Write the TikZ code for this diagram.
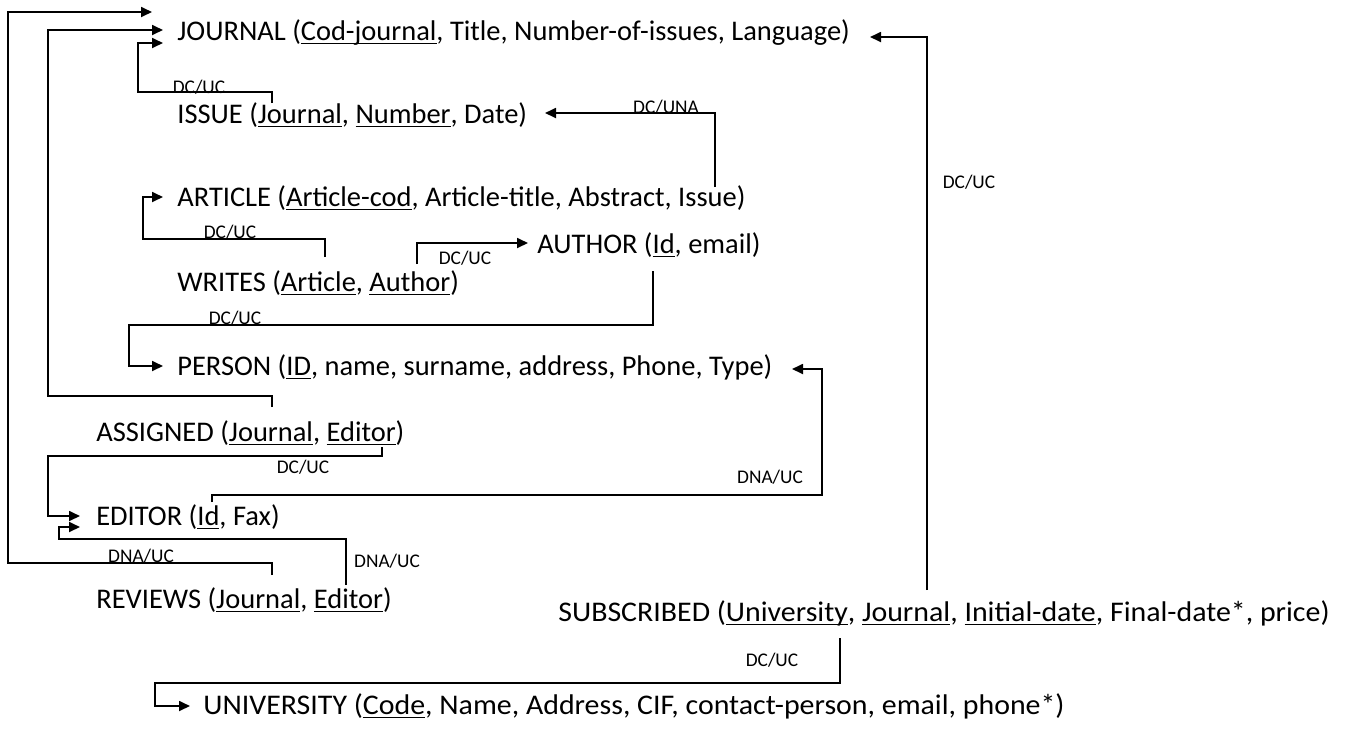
\documentclass[tikz,border=0pt]{standalone}
\usepackage{fontspec}
\setmainfont{Carlito}
\usepackage{graphicx}
\usetikzlibrary{arrows.meta}
\newcommand{\pk}[1]{\setbox0\hbox{#1}\rlap{\rule[-2.2pt]{\wd0}{0.7pt}}\box0}

\begin{document}
\begin{tikzpicture}[
        x=0.02cm, y=-0.02cm,
        ent/.style={anchor=base west, inner sep=0pt, font=\fontsize{16.2}{18}\selectfont},
        lbl/.style={inner sep=0pt, font=\fontsize{11}{12}\selectfont},
        link/.style={line width=1pt, -{Triangle[length=2.2mm, width=2mm]}}
    ]
    \useasboundingbox (0,0) rectangle (1349,731);

    % relations
    \node[ent] (journal) at (177,40) {JOURNAL (\pk{Cod-journal}, Title,\ Number-of-issues,\ Language)};
    \node[ent] (issue) at (177,123) {ISSUE (\pk{Journal}, \pk{Number}, Date)};
    \node[ent] (article) at (177,206) {ARTICLE (\pk{Article-cod}, Article-title,\ Abstract, Issue)};
    \node[ent] (author) at (537,253) {AUTHOR (\pk{Id}, email)};
    \node[ent] (writes) at (177,291) {WRITES (\pk{Article}, \pk{Author})};
    \node[ent] (person) at (177,375) {PERSON (\pk{ID}, name, surname, address, Phone, Type)};
    \node[ent] (assigned) at (96,441) {ASSIGNED (\pk{Journal}, \pk{Editor})};
    \node[ent] (editor) at (96,525) {EDITOR (\pk{Id}, Fax)};
    \node[ent] (reviews) at (96,608) {REVIEWS (\pk{Journal}, \pk{Editor})};
    \node[ent] (subscribed) at (558,621) {\scalebox{1.05}[1]{SUBSCRIBED (\pk{University}, \pk{Journal}, \pk{Initial-date}, Final-date*, price)}};
    \node[ent] (university) at (203,714) {\scalebox{1.05}[1]{UNIVERSITY (\pk{Code}, Name, Address, CIF, contact-person,\ email, phone*)}};

    % arrow tips
    \coordinate (journal-in1) at (152,12);
    \coordinate (journal-in2) at (163,30);
    \coordinate (journal-in3) at (163,43);
    \coordinate (journal-in4) at (870,37);
    \coordinate (issue-in) at (545,113);
    \coordinate (article-in) at (163,197);
    \coordinate (author-in) at (528,243);
    \coordinate (person-in1) at (163,366);
    \coordinate (person-in2) at (792,369);
    \coordinate (editor-in1) at (80,516);
    \coordinate (editor-in2) at (80,527);
    \coordinate (university-in) at (190,706);

    % foreign keys
    \coordinate (issue-fk) at (272,103);
    \coordinate (article-fk) at (715,187);
    \coordinate (writes-art) at (325,257);
    \coordinate (writes-aut) at (417,264);
    \coordinate (author-fk) at (653,271);
    \coordinate (editor-fk) at (212,502);
    \coordinate (assigned-jr) at (272,407);
    \coordinate (assigned-ed) at (382,447);
    \coordinate (reviews-jr) at (272,575);
    \coordinate (reviews-ed) at (346,585);
    \coordinate (subscribed-jr) at (927,590);
    \coordinate (subscribed-un) at (840,638);

    \draw[link] (reviews-jr) |- (8,563) |- (journal-in1);
    \draw[link] (assigned-jr) |- (48,396) |- (journal-in2);
    \draw[link] (issue-fk) |- (138,92) |- (journal-in3);
    \draw[link] (subscribed-jr) |- (journal-in4);
    \draw[link] (article-fk) |- (issue-in);
    \draw[link] (writes-art) |- (143,239) |- (article-in);
    \draw[link] (writes-aut) |- (author-in);
    \draw[link] (author-fk) |- (129,325) |- (person-in1);
    \draw[link] (editor-fk) |- (822,495) |- (person-in2);
    \draw[link] (assigned-ed) |- (48,456) |- (editor-in1);
    \draw[link] (reviews-ed) |- (59,539) |- (editor-in2);
    \draw[link] (subscribed-un) |- (155,683) |- (university-in);

    % constraints
    \node[lbl] (l-rev-jr) at (141,556) {DNA/UC};
    \node[lbl] (l-iss) at (199,87) {DC/UC};
    \node[lbl] (l-art) at (666,107) {DC/UNA};
    \node[lbl] (l-wr-art) at (230,232) {DC/UC};
    \node[lbl] (l-wr-aut) at (465,258) {DC/UC};
    \node[lbl] (l-aut) at (235,318) {DC/UC};
    \node[lbl] (l-ed) at (770,477) {DNA/UC};
    \node[lbl] (l-as-ed) at (303,467) {DC/UC};
    \node[lbl] (l-rev-ed) at (387,561) {DNA/UC};
    \node[lbl] (l-sub-jr) at (969,182) {DC/UC};
    \node[lbl] (l-sub-un) at (772,660) {DC/UC};

\end{tikzpicture}
\end{document}
